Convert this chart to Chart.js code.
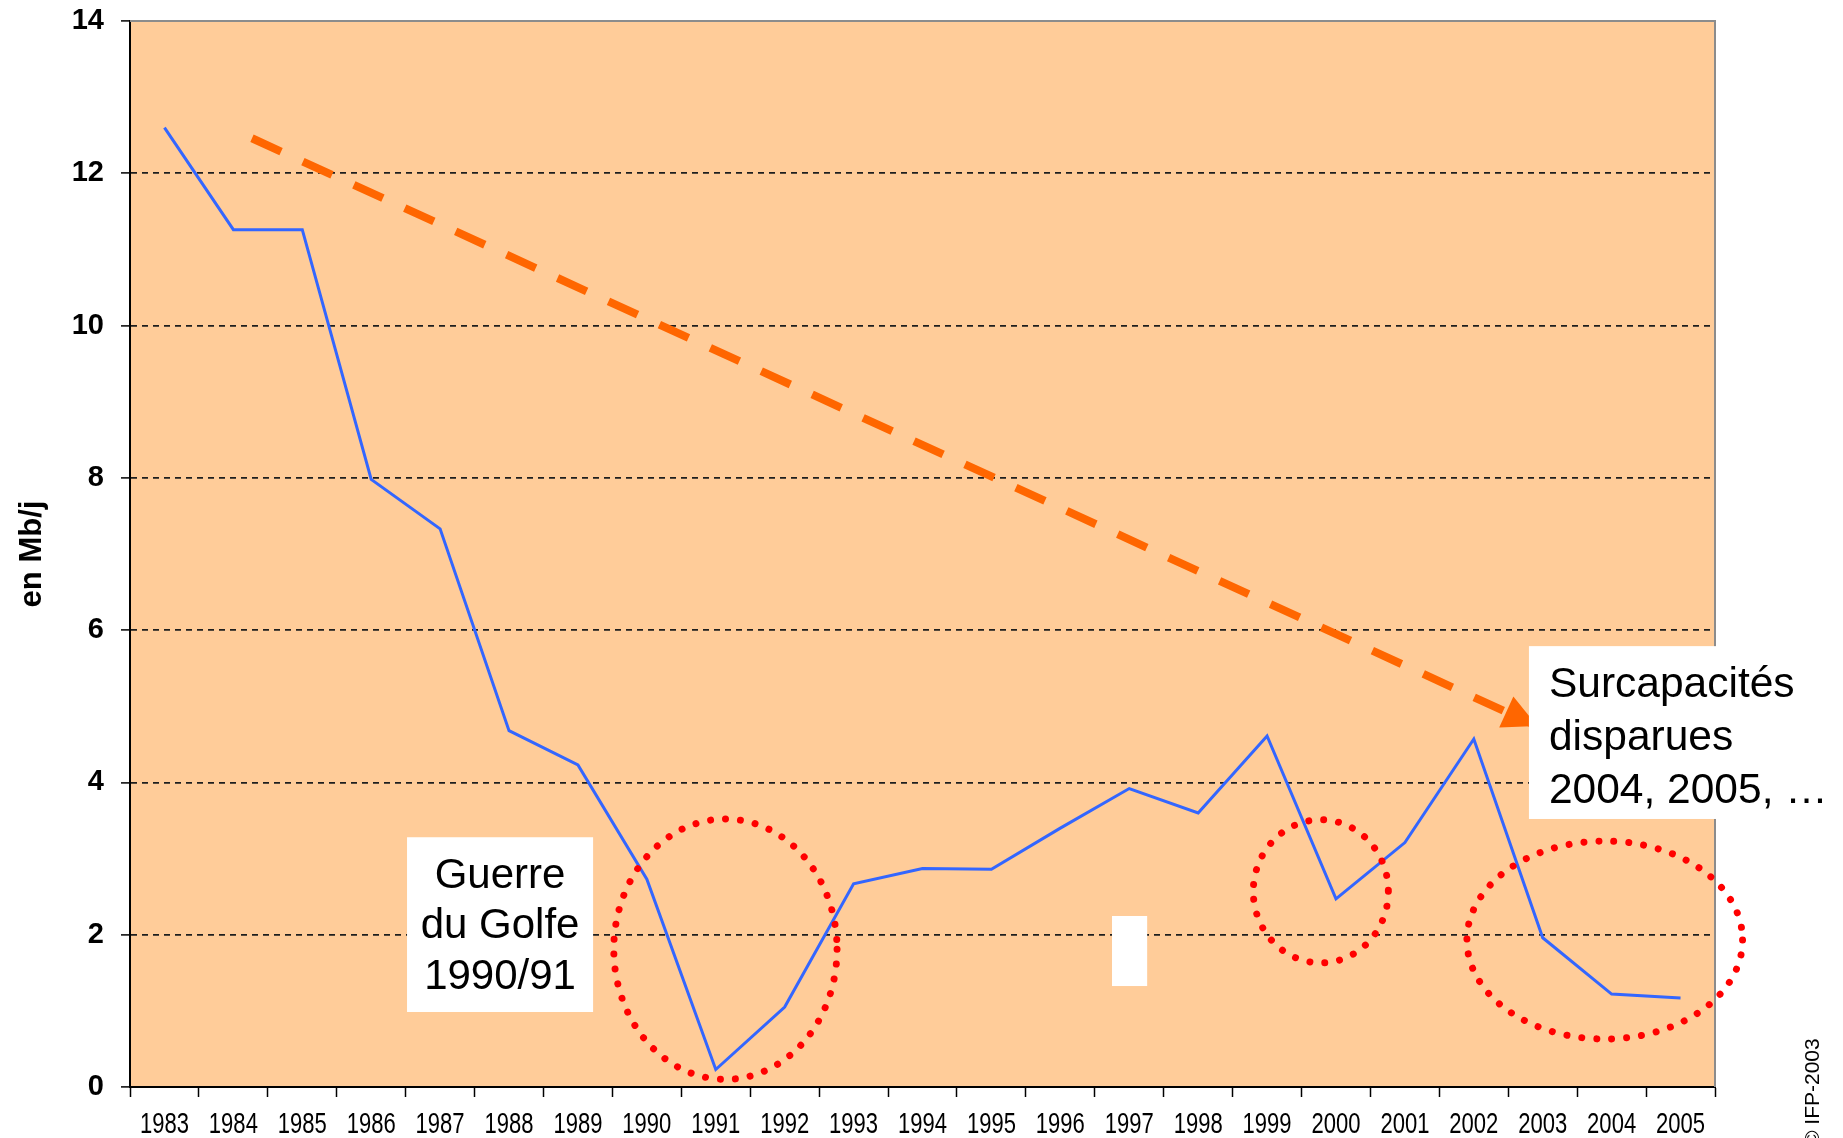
<!DOCTYPE html>
<html>
<head>
<meta charset="utf-8">
<script src="https://cdn.jsdelivr.net/npm/chart.js@4.4.1/dist/chart.umd.min.js"></script>
<style>
  html, body { margin: 0; padding: 0; background: #fff; }
  #wrap { width: 1843px; height: 1138px; position: relative; }
</style>
</head>
<body>
<div id="wrap"><canvas id="chart"></canvas></div>
<script>
// data
const years = ['1983', '1984', '1985', '1986', '1987', '1988', '1989', '1990', '1991', '1992', '1993', '1994',
    '1995', '1996', '1997', '1998', '1999', '2000', '2001', '2002', '2003', '2004', '2005'];
const surcapacite = [12.6, 11.26, 11.26, 7.98, 7.33, 4.68, 4.23, 2.73, 0.23, 1.05, 2.67, 2.87,
    2.86, 3.4, 3.92, 3.6, 4.61, 2.47, 3.21, 4.57, 1.96, 1.22, 1.17];
const yTicks = [0, 2, 4, 6, 8, 10, 12, 14];

// annotations, in axis units (x = category index, y = Mb/j)
const trendArrow = [{ x: 1.27, y: 12.46 }, { x: 19.92, y: 4.74 }];
const circles = [
    { x: 8.14, y: 1.81, rx: 1.62, ry: 1.71 },
    { x: 16.78, y: 2.57, rx: 0.98, ry: 0.94 },
    { x: 20.9, y: 1.93, rx: 2.0, ry: 1.30 }
];
const guerreText = ['Guerre', 'du Golfe', '1990/91'];
const guerreBox = { x1: 3.52, x2: 6.22, y1: 3.28, y2: 0.985 };
const surcapText = ['Surcapacités', 'disparues', '2004, 2005, …'];
const surcapBox = { x1: 19.80, y1: 5.79, y2: 3.52 };
const blankBox = { x1: 13.75, x2: 14.26, y1: 2.246, y2: 1.326 };

const FONT = "'Liberation Sans', Arial, sans-serif";

const decor = {
    id: 'decor',
    beforeDraw(chart) {
        const { ctx, chartArea: a, width, height } = chart;
        ctx.save();
        ctx.fillStyle = '#ffffff';
        ctx.fillRect(0, 0, width, height);
        ctx.fillStyle = '#ffcc99';
        ctx.fillRect(a.left, a.top, a.right - a.left, a.bottom - a.top);
        ctx.restore();
    },
    afterDatasetsDraw(chart) {
        const { ctx, chartArea: a } = chart;
        const xs = chart.scales.x2, ys = chart.scales.y;
        ctx.save();

        // grey frame top / right
        ctx.strokeStyle = '#8c8c8c';
        ctx.lineWidth = 2;
        ctx.beginPath();
        ctx.moveTo(a.left, a.top);
        ctx.lineTo(a.right, a.top);
        ctx.lineTo(a.right, a.bottom);
        ctx.stroke();

        // arrow head
        const p0 = { x: xs.getPixelForValue(trendArrow[0].x), y: ys.getPixelForValue(trendArrow[0].y) };
        const p1 = { x: xs.getPixelForValue(trendArrow[1].x), y: ys.getPixelForValue(trendArrow[1].y) };
        const ang = Math.atan2(p1.y - p0.y, p1.x - p0.x);
        const len = 34, half = 17;
        const bx = p1.x - len * Math.cos(ang), by = p1.y - len * Math.sin(ang);
        ctx.fillStyle = '#ff6600';
        ctx.beginPath();
        ctx.moveTo(p1.x, p1.y);
        ctx.lineTo(bx + half * Math.sin(ang), by - half * Math.cos(ang));
        ctx.lineTo(bx - half * Math.sin(ang), by + half * Math.cos(ang));
        ctx.closePath();
        ctx.fill();

        // red dotted circles
        ctx.strokeStyle = '#ff0000';
        ctx.lineWidth = 7;
        ctx.lineCap = 'round';
        ctx.setLineDash([0.01, 15]);
        circles.forEach(c => {
            const cx = xs.getPixelForValue(c.x), cy = ys.getPixelForValue(c.y);
            const rx = Math.abs(xs.getPixelForValue(c.x + c.rx) - cx);
            const ry = Math.abs(ys.getPixelForValue(c.y + c.ry) - cy);
            ctx.beginPath();
            ctx.ellipse(cx, cy, rx, ry, 0, 0, Math.PI * 2);
            ctx.stroke();
        });
        ctx.restore();
    },
    afterDraw(chart) {
        const { ctx, width } = chart;
        const xs = chart.scales.x2, ys = chart.scales.y, xc = chart.scales.x;
        ctx.save();

        // year labels, narrow like the original
        ctx.fillStyle = '#000';
        ctx.font = '29px ' + FONT;
        ctx.textAlign = 'center';
        ctx.textBaseline = 'middle';
        years.forEach((yr, i) => {
            ctx.save();
            ctx.translate(xc.getPixelForValue(i), xc.top + 38);
            ctx.scale(0.76, 1);
            ctx.fillText(yr, 0, 0);
            ctx.restore();
        });

        // small blank patch
        ctx.fillStyle = '#ffffff';
        let l = xs.getPixelForValue(blankBox.x1), r = xs.getPixelForValue(blankBox.x2);
        let t = ys.getPixelForValue(blankBox.y1), b = ys.getPixelForValue(blankBox.y2);
        ctx.fillRect(l, t, r - l, b - t);

        // Guerre du Golfe
        l = xs.getPixelForValue(guerreBox.x1); r = xs.getPixelForValue(guerreBox.x2);
        t = ys.getPixelForValue(guerreBox.y1); b = ys.getPixelForValue(guerreBox.y2);
        ctx.fillStyle = '#ffffff';
        ctx.fillRect(l, t, r - l, b - t);
        ctx.fillStyle = '#000';
        ctx.font = '42px ' + FONT;
        ctx.textAlign = 'center';
        ctx.textBaseline = 'middle';
        const midY = (t + b) / 2 + 2;
        guerreText.forEach((s, i) => ctx.fillText(s, (l + r) / 2, midY + (i - 1) * 50.5));

        // Surcapacites
        l = xs.getPixelForValue(surcapBox.x1);
        t = ys.getPixelForValue(surcapBox.y1); b = ys.getPixelForValue(surcapBox.y2);
        ctx.fillStyle = '#ffffff';
        ctx.fillRect(l, t, width - l, b - t);
        ctx.fillStyle = '#000';
        ctx.font = '42.5px ' + FONT;
        ctx.textAlign = 'left';
        ctx.textBaseline = 'alphabetic';
        surcapText.forEach((s, i) => ctx.fillText(s, l + 20, t + 51 + i * 53));

        // copyright
        ctx.translate(1819, 1146);
        ctx.rotate(-Math.PI / 2);
        ctx.font = '21px ' + FONT;
        ctx.fillText('© IFP-2003', 0, 0);
        ctx.restore();
    }
};

const ctx = document.getElementById('chart').getContext('2d');
new Chart(ctx, {
    type: 'line',
    data: {
        labels: years,
        datasets: [{
            label: 'Surcapacités',
            data: surcapacite,
            borderColor: '#3366ff',
            borderWidth: 3,
            pointRadius: 0,
            tension: 0,
            xAxisID: 'x',
            order: 2
        }, {
            label: 'Tendance',
            data: trendArrow,
            borderColor: '#ff6600',
            borderWidth: 8,
            borderDash: [32, 24],
            borderCapStyle: 'butt',
            pointRadius: 0,
            xAxisID: 'x2',
            order: 1
        }]
    },
    options: {
        responsive: true,
        maintainAspectRatio: false,
        animation: false,
        layout: { padding: { top: 21, right: 128, bottom: 0, left: 0 } },
        plugins: {
            legend: { display: false },
            tooltip: { enabled: false }
        },
        scales: {
            x: {
                type: 'category',
                offset: true,
                grid: {
                    offset: true,
                    drawOnChartArea: false,
                    drawTicks: true,
                    tickLength: 10,
                    tickColor: '#000',
                    tickWidth: 1.5
                },
                border: { display: true, color: '#000', width: 2 },
                ticks: { display: false },
                afterFit(scale) {
                    scale.height = 51;
                    scale.paddingLeft = 0;
                    scale.paddingRight = 0;
                }
            },
            x2: {
                type: 'linear',
                display: false,
                min: -0.5,
                max: 22.5
            },
            y: {
                min: 0,
                max: 14,
                afterBuildTicks(scale) { scale.ticks = yTicks.map(v => ({ value: v })); },
                grid: {
                    color: c => (c.tick && (c.tick.value === 0 || c.tick.value === 14)) ? 'rgba(0,0,0,0)' : '#1e1e1e',
                    lineWidth: 1.8,
                    drawTicks: true,
                    tickLength: 9,
                    tickColor: '#000',
                    tickWidth: 1.5
                },
                border: { display: true, color: '#000', width: 2, dash: [6, 5] },
                ticks: {
                    color: '#000',
                    padding: 17,
                    font: { family: FONT, size: 29, weight: 'bold' }
                },
                title: {
                    display: true,
                    text: 'en Mb/j',
                    color: '#000',
                    padding: { top: 14, bottom: 0 },
                    font: { family: FONT, size: 31, weight: 'bold' }
                },
                afterFit(scale) {
                    scale.width = 130;
                    scale.paddingTop = 0;
                    scale.paddingBottom = 0;
                }
            }
        }
    },
    plugins: [decor]
});
</script>
</body>
</html>
